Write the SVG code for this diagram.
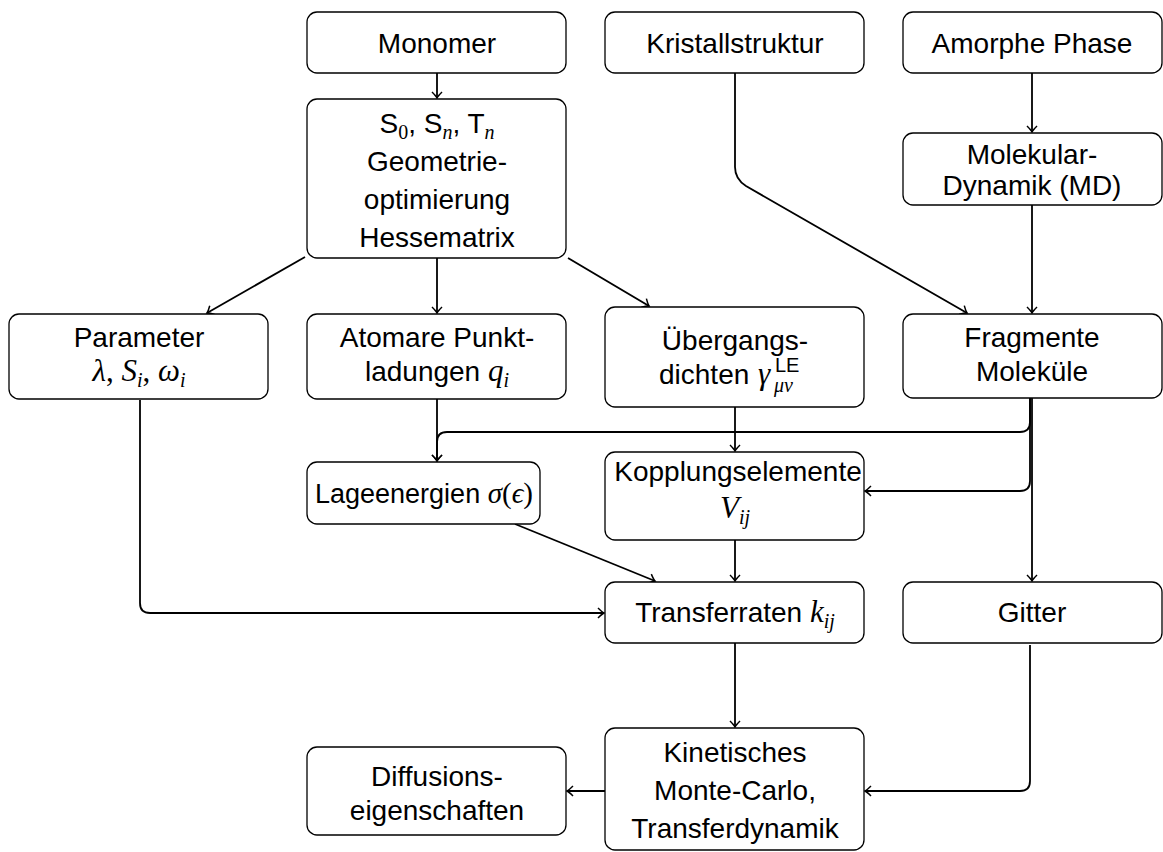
<svg xmlns="http://www.w3.org/2000/svg" width="1163" height="852" viewBox="0 0 1163 852">
<style>
.box{fill:#fff;stroke:#000;stroke-width:1.3}
.t{font-family:"Liberation Sans",Arial,sans-serif;font-size:28px;text-anchor:middle;fill:#000}
.ts{font-family:"Liberation Sans",Arial,sans-serif;font-size:28px;fill:#000}
.m{font-family:"Liberation Serif","DejaVu Serif",serif;font-style:italic;font-size:31px}
.r{font-family:"Liberation Serif","DejaVu Serif",serif;font-style:normal;font-size:31px}
.s{font-size:20px}
.c{fill:none;stroke:#000;stroke-width:1.8}
</style>
<defs>
<marker id="a" markerWidth="12" markerHeight="12" refX="0" refY="0" viewBox="-10 -6 12 12" orient="auto" markerUnits="userSpaceOnUse">
<path d="M-6,-5 Q-2,-1 0,0 Q-2,1 -6,5" fill="none" stroke="#000" stroke-width="1.5"/>
</marker>
</defs>
<rect width="1163" height="852" fill="#fff"/>
<g id="connectors" class="c" marker-end="url(#a)">
<path d="M437,73 V98"/>
<path d="M437,258 V313"/>
<path d="M305,257 L207,313"/>
<path d="M568,258 L649,306"/>
<path d="M735,73 V167 Q735,179 746,186 L967,313"/>
<path d="M1032,73 V132"/>
<path d="M1032,205 V313"/>
<path d="M1032,398 V581"/>
<path d="M437,399 V461"/>
<path d="M1030,398 V422 Q1030,432 1020,432 H447 Q437,432 437,442 V461"/>
<path d="M1030,398 V481 Q1030,491 1020,491 H865"/>
<path d="M735,407 V451"/>
<path d="M515,524 L655,581"/>
<path d="M140,400 V603 Q140,613 150,613 H604"/>
<path d="M735,540 V581"/>
<path d="M735,643 V727"/>
<path d="M1030,645 V781 Q1030,791 1020,791 H865"/>
<path d="M605,791 H567"/>
</g>
<g id="monomer"><rect class="box" x="307" y="12" width="259" height="61" rx="10"/><text class="t" x="437" y="53">Monomer</text></g>
<g id="kristall"><rect class="box" x="605" y="12" width="259" height="61" rx="10"/><text class="t" x="735" y="53">Kristallstruktur</text></g>
<g id="amorph"><rect class="box" x="903" y="12" width="259" height="61" rx="10"/><text class="t" x="1032" y="53">Amorphe Phase</text></g>
<g id="s0"><rect class="box" x="307" y="99" width="259" height="159" rx="10"/>
<text class="t" x="437" y="133">S<tspan class="r s" dy="6">0</tspan><tspan dy="-6">, S</tspan><tspan class="m s" dy="6">n</tspan><tspan dy="-6">, T</tspan><tspan class="m s" dy="6">n</tspan></text>
<text class="t" x="437" y="171">Geometrie-</text>
<text class="t" x="437" y="209">optimierung</text>
<text class="t" x="437" y="247">Hessematrix</text></g>
<g id="md"><rect class="box" x="903" y="133" width="259" height="72" rx="10"/><text class="t" x="1032" y="164">Molekular-</text><text class="t" x="1032" y="195">Dynamik (MD)</text></g>
<g id="parameter"><rect class="box" x="9" y="314" width="259" height="85" rx="10"/><text class="t" x="139" y="347">Parameter</text>
<text class="t" x="139" y="381"><tspan class="m">λ</tspan><tspan class="r">, </tspan><tspan class="m">S</tspan><tspan class="m s" dy="6">i</tspan><tspan class="r" dy="-6">, </tspan><tspan class="m">ω</tspan><tspan class="m s" dy="6">i</tspan></text></g>
<g id="atomare"><rect class="box" x="307" y="314" width="259" height="85" rx="10"/><text class="t" x="437" y="347">Atomare Punkt-</text>
<text class="t" x="437" y="381">ladungen <tspan class="m">q</tspan><tspan class="m s" dy="6">i</tspan></text></g>
<g id="uebergang"><rect class="box" x="605" y="307" width="259" height="100" rx="10"/><text class="t" x="735" y="350">Übergangs-</text>
<text class="ts" x="659" y="384">dichten</text><text class="ts m" x="758" y="384">γ</text><text class="ts s" x="775" y="372">LE</text><text class="ts m s" x="774" y="392">μν</text></g>
<g id="fragmente"><rect class="box" x="903" y="314" width="259" height="84" rx="10"/><text class="t" x="1032" y="347">Fragmente</text><text class="t" x="1032" y="381">Moleküle</text></g>
<g id="lage"><rect class="box" x="307" y="462" width="233" height="62" rx="10"/>
<text class="t" x="424" y="503" style="font-size:27px">Lageenergien <tspan class="m" style="font-size:29px">σ</tspan><tspan class="r" style="font-size:29px">(</tspan><tspan class="m" style="font-size:29px">ϵ</tspan><tspan class="r" style="font-size:29px">)</tspan></text></g>
<g id="kopplung"><rect class="box" x="605" y="452" width="259" height="88" rx="10"/><text class="t" x="738" y="481">Kopplungselemente</text>
<text class="t" x="735" y="518"><tspan class="m">V</tspan><tspan class="m s" dy="6">ij</tspan></text></g>
<g id="transfer"><rect class="box" x="605" y="582" width="259" height="61" rx="10"/>
<text class="t" x="735" y="622">Transferraten <tspan class="m">k</tspan><tspan class="m s" dy="6">ij</tspan></text></g>
<g id="gitter"><rect class="box" x="903" y="582" width="259" height="61" rx="10"/><text class="t" x="1032" y="622">Gitter</text></g>
<g id="kinetisch"><rect class="box" x="605" y="728" width="259" height="122" rx="10"/><text class="t" x="735" y="762">Kinetisches</text><text class="t" x="735" y="800">Monte-Carlo,</text><text class="t" x="735" y="838">Transferdynamik</text></g>
<g id="diffusion"><rect class="box" x="307" y="747" width="259" height="88" rx="10"/><text class="t" x="437" y="786">Diffusions-</text><text class="t" x="437" y="820">eigenschaften</text></g>
</svg>
